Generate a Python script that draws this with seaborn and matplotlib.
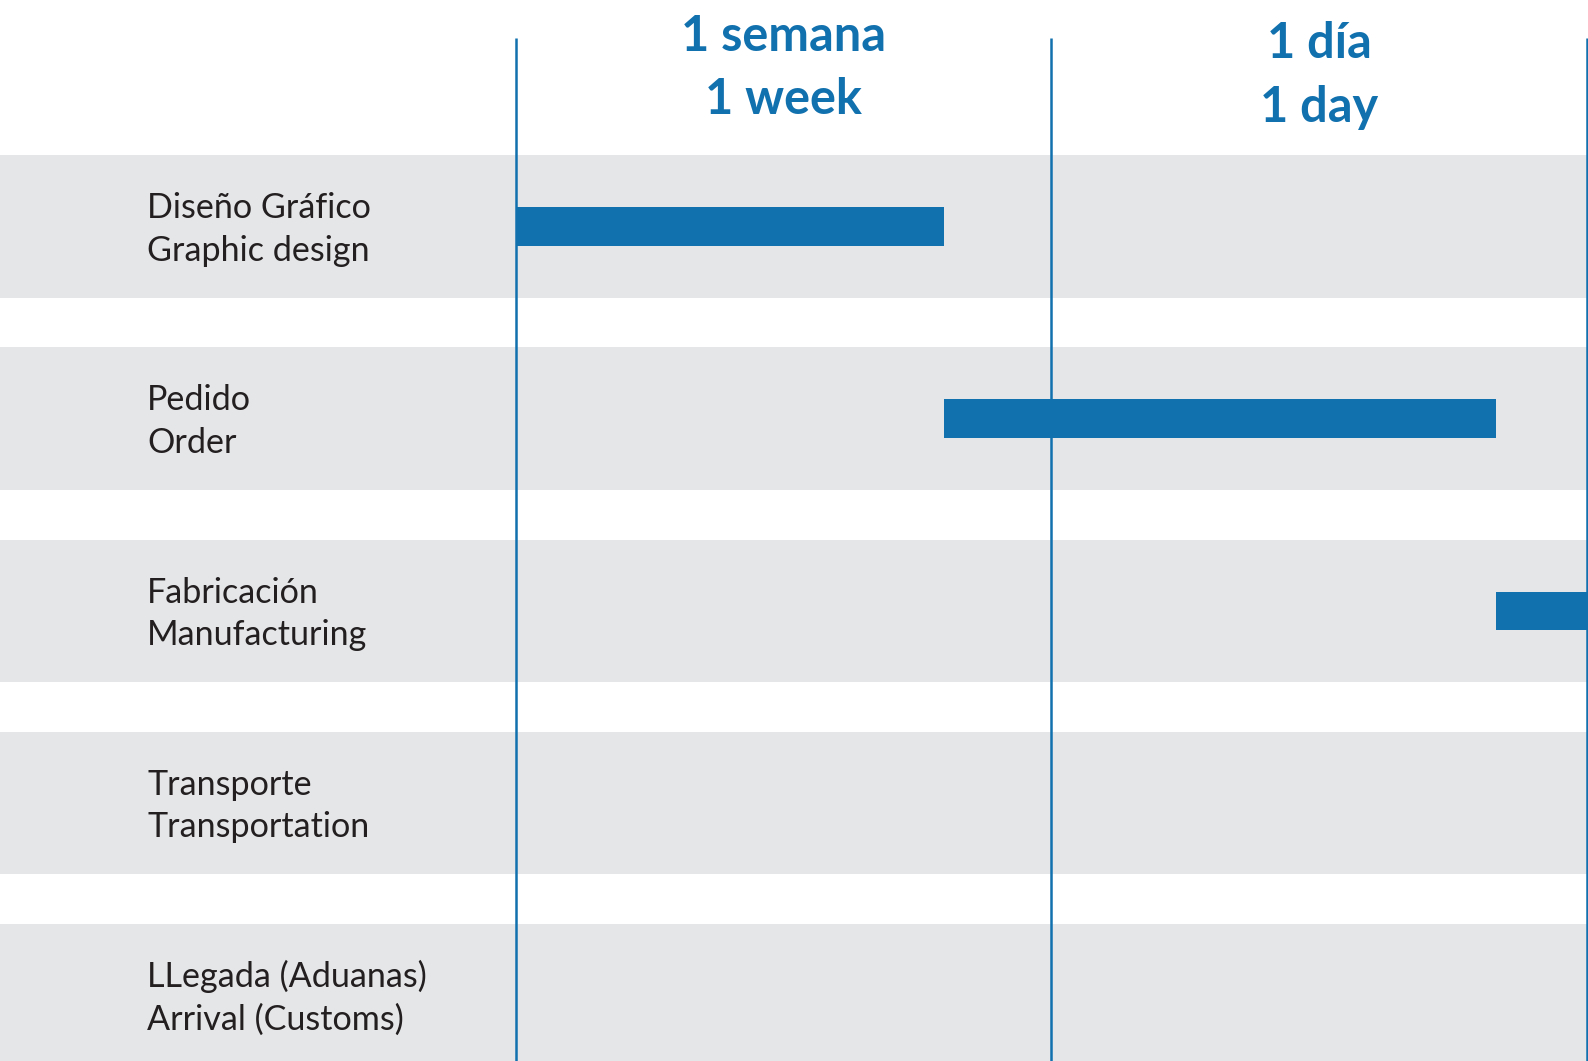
import numpy as np
import seaborn as sns
import matplotlib.pyplot as plt
import matplotlib.transforms as mtransforms

# datos del cronograma (unidades = columnas)
tasks_es = ["Diseño Gráfico", "Pedido", "Fabricación", "Transporte", "LLegada (Aduanas)"]
tasks_en = ["Graphic design", "Order", "Manufacturing", "Transportation", "Arrival (Customs)"]
start = [0.0, 0.80, 1.83, np.nan, np.nan]
end = [0.80, 1.83, 2.3, np.nan, np.nan]

col_es = ["1 semana", "1 día"]
col_en = ["1 week", "1 day"]
col_mid = [0.5, 1.5]
col_edges = [0, 1, 2]

blue = "#1170AE"
gray = "#E5E6E8"
dark = "#231F20"

sns.set_style("white")
plt.rcParams['font.family'] = ['Lato', 'DejaVu Sans']

W, H = 1588, 1061
fig = plt.figure(figsize=(W / 100, H / 100), dpi=100)
ax = fig.add_axes([0, 0, 1, 1])

# escala: x=0 en px 515.5, x=2 en px 1587 ; filas cada 192 px, fila 0 en px 226.5
px_x = (1587 - 515.5) / 2
ax.set_xlim(-515.5 / px_x, (W - 515.5) / px_x)
px_y = 192.2
ax.set_ylim((H - 226.5) / px_y, -226.5 / px_y)
ax.axis("off")

n = len(tasks_es)
for i in range(n):
    ax.axhspan(i - 0.371, i + 0.371, color=gray, lw=0, zorder=0)

ax.vlines(col_edges, ymin=(38 - 226.5) / px_y, ymax=(H - 226.5) / px_y,
          color=blue, lw=1.8, zorder=2)

widths = [e - s for s, e in zip(start, end)]
ax.barh(range(n), widths, left=start, height=0.2, color=blue,
        edgecolor="none", linewidth=0, zorder=3)

trans = mtransforms.blended_transform_factory(ax.transAxes, ax.transData)
for i in range(n):
    ax.text(147 / W, i + 3 / px_y, tasks_es[i] + "\n" + tasks_en[i], transform=trans,
            ha="left", va="center", fontsize=24.6, color=dark, linespacing=1.41)

head_y = [(68 - 226.5) / px_y, (75.5 - 226.5) / px_y]
for j in range(len(col_es)):
    ax.text(col_mid[j], head_y[j], col_es[j] + "\n" + col_en[j],
            ha="center", va="center", fontsize=35, fontweight="bold",
            color=blue, linespacing=1.49)

plt.savefig("out.png", dpi=100)
